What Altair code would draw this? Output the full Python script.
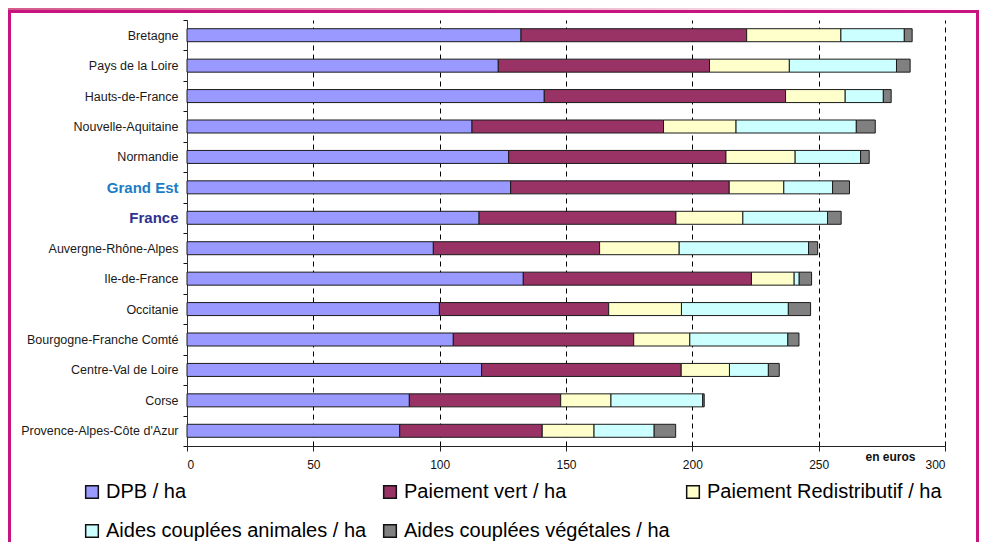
import altair as alt
import pandas as pd

regions = [
    "Bretagne", "Pays de la Loire", "Hauts-de-France", "Nouvelle-Aquitaine",
    "Normandie", "Grand Est", "France", "Auvergne-Rhône-Alpes", "Ile-de-France",
    "Occitanie", "Bourgogne-Franche Comté", "Centre-Val de Loire", "Corse",
    "Provence-Alpes-Côte d'Azur",
]
components = [
    "DPB / ha", "Paiement vert / ha", "Paiement Redistributif / ha",
    "Aides couplées animales / ha", "Aides couplées végétales / ha",
]
colors = ["#9999FF", "#993366", "#FFFFCC", "#CCFFFF", "#808080"]

dpb = [132.2, 123.2, 141.4, 112.8, 127.3, 128.1, 115.6, 97.5, 133.1, 99.9, 105.4, 116.6, 88.0, 84.2]
vert = [89.3, 83.6, 95.5, 75.8, 86.0, 86.5, 77.9, 65.8, 90.3, 67.0, 71.4, 79.0, 59.9, 56.4]
redis = [37.3, 31.6, 23.6, 28.7, 27.4, 21.6, 26.5, 31.5, 16.9, 28.8, 22.2, 19.1, 19.9, 20.5]
animales = [25.1, 42.4, 15.1, 47.6, 25.9, 19.3, 33.5, 51.2, 2.0, 42.3, 38.8, 15.4, 36.3, 23.8]
vegetales = [3.1, 5.4, 3.1, 7.5, 3.4, 6.7, 5.4, 3.6, 4.9, 8.8, 4.4, 4.3, 0.6, 8.5]
x_ticks = [0, 50, 100, 150, 200, 250, 300]

series = [dpb, vert, redis, animales, vegetales]
rows = []
for ci, (comp, vals) in enumerate(zip(components, series)):
    for r, v in zip(regions, vals):
        rows.append({"region": r, "component": comp, "value": v, "idx": ci})
df = pd.DataFrame(rows)

FONT = "Liberation Sans, Arial, sans-serif"
frame_color = "#C8147E"
one = alt.Data(values=[{"a": 1}])

bars = alt.Chart(df).mark_bar(size=13, stroke="#1a1a1a", strokeWidth=1).encode(
    x=alt.X(
        "value:Q", stack="zero",
        scale=alt.Scale(domain=[0, 300], nice=False, zero=True),
        axis=alt.Axis(
            values=x_ticks, title="en euros", grid=True, gridColor="#000",
            gridDash=[5, 4], gridWidth=1, domainColor="#222", tickColor="#222",
            tickSize=5, labelFont=FONT, labelFontSize=12, labelColor="#111",
            labelPadding=8, titleFont=FONT, titleFontSize=12, titleFontWeight="bold",
            titleColor="#111", titleX=703, titleY=10, titleAlign="center",
            titleBaseline="middle",
        ),
    ),
    y=alt.Y(
        "region:N", sort=regions,
        scale=alt.Scale(paddingInner=0, paddingOuter=0),
        axis=alt.Axis(
            title=None, tickBand="extent", tickSize=4, tickColor="#111",
            domainColor="#333", grid=False, labelFont=FONT, labelPadding=5,
            labelLimit=300,
            labelColor={"condition": [
                {"test": "datum.value == 'Grand Est'", "value": "#1C7DC4"},
                {"test": "datum.value == 'France'", "value": "#2E3192"}],
                "value": "#1a1a1a"},
            labelFontSize={"condition": [
                {"test": "datum.value == 'Grand Est' || datum.value == 'France'", "value": 15}],
                "value": 12.5},
            labelFontWeight={"condition": [
                {"test": "datum.value == 'Grand Est' || datum.value == 'France'", "value": "bold"}],
                "value": "normal"},
        ),
    ),
    color=alt.Color(
        "component:N",
        scale=alt.Scale(domain=components, range=colors),
        legend=alt.Legend(
            title=None, orient="none", legendX=-105, legendY=462, columns=3,
            direction="horizontal",
            symbolType="square", symbolSize=160, symbolStrokeColor="#111",
            symbolStrokeWidth=1.5, labelFont=FONT, labelFontSize=20,
            labelColor="#000", columnPadding=13, rowPadding=19, labelLimit=400,
            labelOffset=4, padding=0,
        ),
    ),
    order=alt.Order("idx:Q", sort="ascending"),
)

gradient = alt.Chart(one).mark_rect(
    color=alt.LinearGradient(
        gradient="linear",
        stops=[alt.GradientStop(color="#D45A8A", offset=0),
               alt.GradientStop(color="#FFFFFF", offset=1)],
        x1=0, x2=1, y1=0, y2=0,
    )
).encode(x=alt.value(-179), x2=alt.value(792), y=alt.value(-12), y2=alt.value(-10))

top = alt.Chart(one).mark_rule(color=frame_color, strokeWidth=3).encode(
    x=alt.value(-179), x2=alt.value(792), y=alt.value(-8.5))
left = alt.Chart(one).mark_rule(color=frame_color, strokeWidth=3).encode(
    x=alt.value(-177.5), y=alt.value(-10), y2=alt.value(530))
right = alt.Chart(one).mark_rule(color=frame_color, strokeWidth=3).encode(
    x=alt.value(790.5), y=alt.value(-10), y2=alt.value(530))

chart = alt.layer(gradient, top, left, right, bars).properties(
    width=758, height=426,
    autosize=alt.AutoSizeParams(type="none"),
    padding={"left": 179, "top": 12, "right": 34, "bottom": 96},
    background="white",
).configure_view(stroke="transparent")

chart.save("out.html", embed_options={"renderer": "svg", "actions": False})
